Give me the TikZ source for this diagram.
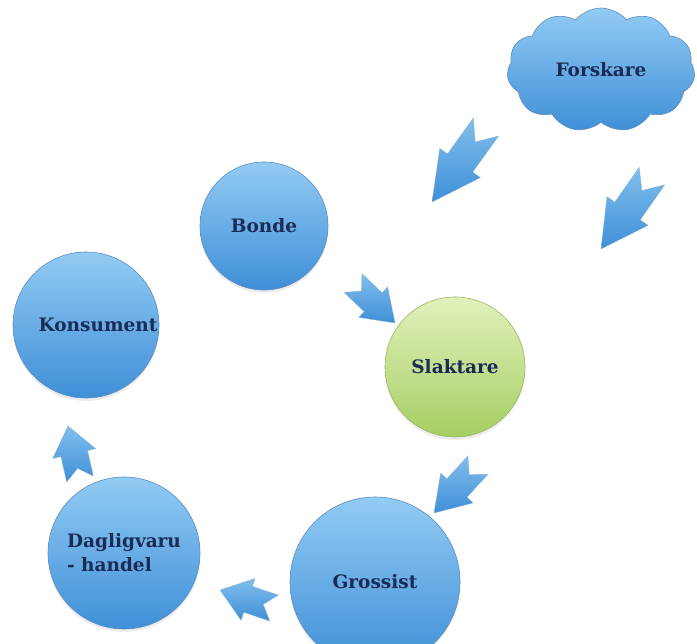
\documentclass[tikz,border=0pt]{standalone}
\usepackage{fontspec}
\setmainfont{DejaVu Serif}
\usetikzlibrary{shapes.symbols,calc,shadows}

\definecolor{bluetop}{HTML}{92CBF3}
\definecolor{bluebot}{HTML}{3F8FD7}
\definecolor{blueline}{HTML}{5A8CC2}
\definecolor{greentop}{HTML}{E2F1BC}
\definecolor{greenbot}{HTML}{A5CE63}
\definecolor{greenline}{HTML}{98B65C}
\definecolor{txt}{HTML}{1C2B55}

\tikzset{
    ball/.style={circle, inner sep=0pt, draw=blueline, line width=0.6pt,
        top color=bluetop, bottom color=bluebot, text=txt,
        font=\fontsize{18.5}{24}\selectfont\bfseries,
        drop shadow={opacity=0.15, shadow xshift=0pt, shadow yshift=-3pt}},
    greenball/.style={ball, draw=greenline, top color=greentop, bottom color=greenbot},
    arrowfill/.style={draw=blueline!70, line width=0.3pt, top color=bluetop!80!bluebot, bottom color=bluebot}
}

% notched block arrow: tail, tip, half width of the head
\newcommand\notcharrow[3]{
    \path[arrowfill]
        ($(#1)!#3*0.62!90:(#2)$)
        -- ($(#1)!0.48!(#2)!#3*0.62!90:(#2)$)
        -- ($(#1)!0.48!(#2)!#3!90:(#2)$)
        -- (#2)
        -- ($(#1)!0.48!(#2)!#3!-90:(#2)$)
        -- ($(#1)!0.48!(#2)!#3*0.62!-90:(#2)$)
        -- ($(#1)!#3*0.62!-90:(#2)$)
        -- ($(#1)!0.2!(#2)$)
        -- cycle;
}

\begin{document}
\begin{tikzpicture}[x=1pt, y=-1pt]
    \useasboundingbox (0,0) rectangle (697,644);

    \node[cloud, cloud puffs=11, cloud puff arc=100, cloud ignores aspect,
        minimum width=188pt, minimum height=124pt,
        draw=blueline, line width=0.6pt, top color=bluetop, bottom color=bluebot, text=txt,
        font=\fontsize{18.5}{24}\selectfont\bfseries] (forskare) at (601,70) {Forskare};

    \node[ball, minimum size=128pt] (bonde) at (264,226) {Bonde};
    \node[ball, minimum size=146pt] (konsument) at (86,325) {\hspace*{24pt}Konsument};
    \node[greenball, minimum size=140pt] (slaktare) at (455,367) {Slaktare};
    \node[ball, minimum size=170pt] (grossist) at (375,582) {Grossist};
    \node[ball, minimum size=152pt, align=left] (handel) at (124,553) {Dagligvaru\\- handel};

    % arrow ends
    \coordinate (t1) at (486,127);  \coordinate (h1) at (432,202);
    \coordinate (t2) at (652,176);  \coordinate (h2) at (601,249);
    \coordinate (t3) at (353,283);  \coordinate (h3) at (395,323);
    \coordinate (t4) at (478,465);  \coordinate (h4) at (434,513);
    \coordinate (t5) at (274,608);  \coordinate (h5) at (220,590);
    \coordinate (t6) at (80,479);   \coordinate (h6) at (68,426);

    \notcharrow{t1}{h1}{25pt}
    \notcharrow{t2}{h2}{25pt}
    \notcharrow{t3}{h3}{21pt}
    \notcharrow{t4}{h4}{22pt}
    \notcharrow{t5}{h5}{22pt}
    \notcharrow{t6}{h6}{22pt}

\end{tikzpicture}
\end{document}
